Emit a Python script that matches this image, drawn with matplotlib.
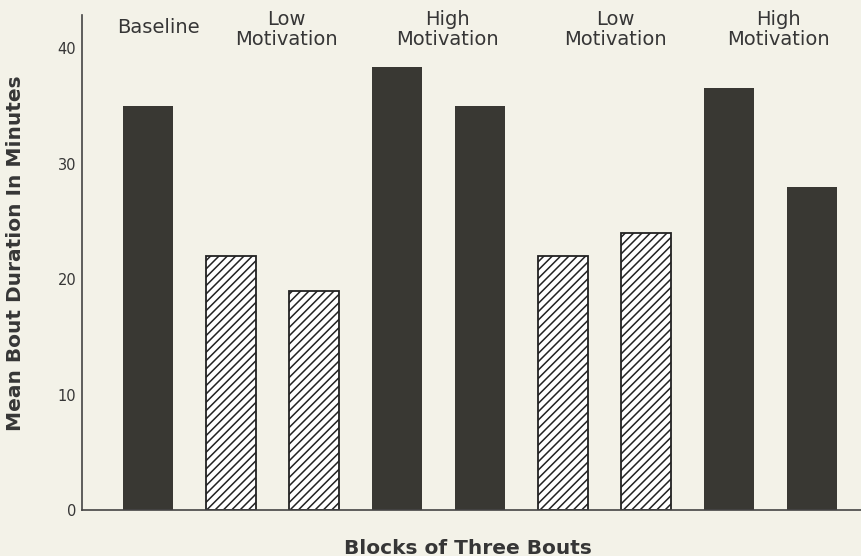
import matplotlib
matplotlib.use("Agg")
import matplotlib.pyplot as plt

values = [35, 22, 19, 38.4, 35, 22, 24, 36.6, 28]
hatched = [False, True, True, False, False, True, True, False, False]
group_labels = [("Baseline",), ("Low", "Motivation"), ("High", "Motivation"),
                ("Low", "Motivation"), ("High", "Motivation")]
group_label_x = [0.12, 1.66, 3.60, 5.63, 7.59]
yticks = [0, 10, 20, 30, 40]

bg = "#f3f2e8"
dark = "#393833"
txt = "#363636"
plt.rcParams['font.family'] = ['DejaVu Sans']
plt.rcParams['hatch.linewidth'] = 1.1

fig = plt.figure(figsize=(8.61, 5.56), dpi=100, facecolor=bg)
ax = fig.add_axes([0.0952, 0.0827, 0.9048, 0.8903])
ax.set_facecolor(bg)

x = list(range(len(values)))
for xi, v, h in zip(x, values, hatched):
    if h:
        ax.bar(xi, v, width=0.6, color="white", edgecolor="#222222", hatch="////", linewidth=1.3)
    else:
        ax.bar(xi, v, width=0.6, color=dark, edgecolor=dark, linewidth=0)

ax.set_xlim(-0.8, 8.59)
ax.set_ylim(0, 42.9)
ax.set_yticks(yticks)
ax.set_yticklabels([str(t) for t in yticks], fontsize=10.5, color=txt)
ax.tick_params(axis='y', length=0, pad=4)
ax.set_xticks([])
for s in ['top', 'right']:
    ax.spines[s].set_visible(False)
for s in ['left', 'bottom']:
    ax.spines[s].set_color("#444444")
    ax.spines[s].set_linewidth(1.2)

for lines, gx in zip(group_labels, group_label_x):
    if len(lines) == 1:
        ax.text(gx, 41.3, lines[0], ha='center', va='baseline', fontsize=14,
                color=txt, clip_on=False)
    else:
        ax.text(gx, 42.0, lines[0], ha='center', va='baseline', fontsize=14,
                color=txt, clip_on=False)
        ax.text(gx, 40.26, lines[1], ha='center', va='baseline', fontsize=14,
                color=txt, clip_on=False)

ax.set_ylabel("Mean Bout Duration In Minutes", fontsize=14.5, fontweight='bold', color=txt)
ax.yaxis.set_label_coords(-0.073, 0.519)
ax.set_xlabel("Blocks of Three Bouts", fontsize=14.5, fontweight='bold', color=txt)
ax.xaxis.set_label_coords(0.4955, -0.058)

fig.savefig("out.png", dpi=100, facecolor=bg)
